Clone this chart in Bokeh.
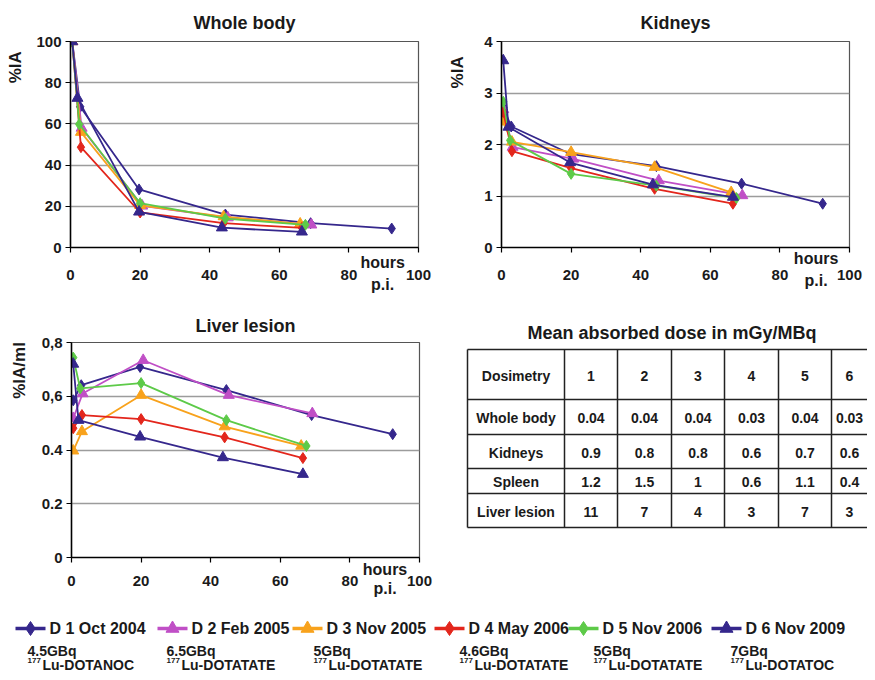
import math
from bokeh.plotting import figure
from bokeh.layouts import column, row
from bokeh.models import Range1d, FixedTicker, LinearAxis
from bokeh.core.properties import value
from bokeh.embed import file_html
from bokeh.resources import INLINE

FONT = "Liberation Sans"
INK = "#1a1a1a"

# ---------------- data ----------------
series_names = ["D 1 Oct 2004", "D 2 Feb 2005", "D 3 Nov 2005",
                "D 4 May 2006", "D 5 Nov 2006", "D 6 Nov 2009"]
activities = ["4.5GBq", "6.5GBq", "5GBq", "4.6GBq", "5GBq", "7GBq"]
isotope = "177"
compounds = ["Lu-DOTANOC", "Lu-DOTATATE", "Lu-DOTATATE",
             "Lu-DOTATATE", "Lu-DOTATATE", "Lu-DOTATOC"]

# acquisition times (hours p.i.)
t_d1 = [0.5, 2.8, 19.7, 44.5, 69.0, 92.3]
t_d2 = [0.5, 3.2, 20.6, 45.2, 69.2]
t_d3 = [0.5, 3.0, 20.0, 44.0, 66.0]
t_d4 = [0.5, 3.0, 20.0, 44.0, 66.5]
t_d5 = [0.5, 2.5, 20.0, 44.5, 67.5]
t_d6 = [0.5, 2.0, 19.7, 43.5, 66.5]

# whole body %IA
wb_d1 = [100, 68.3, 28.2, 16.0, 11.8, 9.2]
wb_d2 = [100, 58.0, 20.2, 14.5, 11.0]
wb_d3 = [100, 56.0, 20.5, 15.0, 11.5]
wb_d4 = [100, 48.7, 17.0, 11.8, 9.5]
wb_d5 = [100, 59.8, 21.5, 14.0, 11.0]
wb_d6 = [100, 72.5, 17.3, 9.6, 7.6]

# kidneys %IA
kd_d1 = [2.72, 2.35, 1.82, 1.58, 1.24, 0.85]
kd_d2 = [2.68, 1.95, 1.72, 1.30, 1.01]
kd_d3 = [2.44, 2.05, 1.85, 1.56, 1.07]
kd_d4 = [2.63, 1.87, 1.54, 1.14, 0.85]
kd_d5 = [2.83, 2.08, 1.43, 1.20, 0.96]
kd_d6 = [3.63, 2.34, 1.65, 1.22, 0.98]

# liver lesion %IA/ml
lv_d1 = [0.585, 0.641, 0.709, 0.623, 0.530, 0.459]
lv_d2 = [0.518, 0.610, 0.734, 0.604, 0.536]
lv_d3 = [0.397, 0.469, 0.604, 0.487, 0.415]
lv_d4 = [0.481, 0.530, 0.515, 0.447, 0.370]
lv_d5 = [0.744, 0.629, 0.649, 0.511, 0.415]
lv_d6 = [0.720, 0.511, 0.449, 0.372, 0.310]

x_ticks = [0, 20, 40, 60, 80, 100]
wb_ticks = [0, 20, 40, 60, 80, 100]
kd_ticks = [0, 1, 2, 3, 4]
lv_ticks = [0, 0.2, 0.4, 0.6, 0.8]
lv_tick_labels = ["0", "0.2", "0.4", "0,6", "0,8"]

# table: mean absorbed dose in mGy/MBq
table_title = "Mean absorbed dose in mGy/MBq"
table_header = ["Dosimetry", "1", "2", "3", "4", "5", "6"]
table_rows = ["Whole body", "Kidneys", "Spleen", "Liver lesion"]
dose_whole_body = ["0.04", "0.04", "0.04", "0.03", "0.04", "0.03"]
dose_kidneys = ["0.9", "0.8", "0.8", "0.6", "0.7", "0.6"]
dose_spleen = ["1.2", "1.5", "1", "0.6", "1.1", "0.4"]
dose_liver = ["11", "7", "4", "3", "7", "3"]

# ---------------- styles ----------------
times = [t_d1, t_d2, t_d3, t_d4, t_d5, t_d6]
colors = ["#35278C", "#C04FC6", "#F8A21C", "#E3261C", "#5DCA48", "#35278C"]
markers = ["diamond", "triangle", "triangle", "diamond", "diamond", "triangle"]


def text_axis(ticks, labels, standoff, size, orientation="horizontal"):
    ax = LinearAxis(ticker=FixedTicker(ticks=ticks),
                    major_label_overrides={t: l for t, l in zip(ticks, labels)},
                    major_label_standoff=standoff,
                    major_label_orientation=orientation,
                    major_label_text_font=FONT,
                    major_label_text_font_style="bold",
                    major_label_text_font_size=size,
                    major_label_text_color=INK,
                    axis_line_color=None, major_tick_line_color=None,
                    minor_tick_line_color=None, major_tick_in=0,
                    major_tick_out=0, minor_tick_in=0, minor_tick_out=0)
    return ax


def make_plot(title, series, ymax, yticks, ylabels, ylab, ylab_y, ylab_so,
              width, height, bl, br, bt, bb, title_so,
              hours_x, hours_so, nums_so, pi_so):
    p = figure(width=width, height=height, x_range=Range1d(0, 100),
               y_range=Range1d(0, ymax), output_backend="svg",
               toolbar_location=None, min_border_left=bl, min_border_right=br,
               min_border_top=bt, min_border_bottom=bb)
    p.title.text = title
    p.title.align = "center"
    p.title.text_font = FONT
    p.title.text_font_style = "bold"
    p.title.text_font_size = "18px"
    p.title.text_color = INK
    p.title.standoff = title_so

    xa = p.xaxis[0]
    ya = p.yaxis[0]
    for ax in (xa, ya):
        ax.axis_line_color = "black"
        ax.axis_line_width = 1.5
        ax.major_tick_line_color = "black"
        ax.major_tick_line_width = 1.2
        ax.major_tick_in = 0
        ax.major_tick_out = 5
        ax.minor_tick_line_color = None
        ax.major_label_text_font = FONT
        ax.major_label_text_font_style = "bold"
        ax.major_label_text_font_size = "15px"
        ax.major_label_text_color = INK
    xa.ticker = FixedTicker(ticks=x_ticks)
    # tick marks only on the main x axis; labels are on separate axes below
    xa.major_label_text_font_size = "1px"
    xa.major_label_text_color = None
    xa.major_label_standoff = 0
    ya.ticker = FixedTicker(ticks=yticks)
    ya.major_label_standoff = 4
    if ylabels is not None:
        ya.major_label_overrides = {t: l for t, l in zip(yticks, ylabels)}

    p.add_layout(text_axis([hours_x], ["hours"], hours_so, "16px"), "below")
    p.add_layout(text_axis(x_ticks, [str(t) for t in x_ticks], nums_so, "15px"),
                 "below")
    p.add_layout(text_axis([hours_x], ["p.i."], pi_so, "16px"), "below")
    p.add_layout(text_axis([ylab_y], [ylab], ylab_so, "17px", "vertical"), "left")

    p.xgrid.visible = False
    p.ygrid.grid_line_color = "#9c9c9c"
    p.ygrid.grid_line_width = 1.3
    p.outline_line_color = "#555555"
    p.outline_line_width = 1.2

    for t, v, c, m in zip(times, series, colors, markers):
        p.line(t, v, line_color=c, line_width=1.8)
        p.scatter(t, v, marker=m, size=11, fill_color=c, line_color=c)
    return p


p1 = make_plot("Whole body", [wb_d1, wb_d2, wb_d3, wb_d4, wb_d5, wb_d6],
               100, wb_ticks, None, "%IA", 87.5, 9,
               435, 296, 70, 17, 41, 49, 18, 89.7, 1, -4, -7)
p2 = make_plot("Kidneys", [kd_d1, kd_d2, kd_d3, kd_d4, kd_d5, kd_d6],
               4, kd_ticks, None, "%IA", 3.40, 14,
               432, 296, 66, 18, 41, 49, 18, 90.4, -3, 0, -11)
p3 = make_plot("Liver lesion", [lv_d1, lv_d2, lv_d3, lv_d4, lv_d5, lv_d6],
               0.8, lv_ticks, lv_tick_labels, "%IA/ml", 0.696, 9,
               435, 304, 71, 16, 46, 43, 14, 90.1, -2, -5, -9)

# ---------------- table ----------------
tx0, tx1 = 435, 867
frame_top, frame_bottom = 342, 557
col_edges = [467, 564, 617, 671, 724, 778, 831, 867]
row_edges = [349, 399, 434, 468, 493, 527]

p4 = figure(width=tx1 - tx0, height=304, x_range=Range1d(tx0, tx1),
            y_range=Range1d(frame_bottom, frame_top), output_backend="svg",
            toolbar_location=None, x_axis_type=None, y_axis_type=None,
            min_border_left=0, min_border_right=0, min_border_top=46,
            min_border_bottom=43)
p4.grid.visible = False
p4.outline_line_color = None
p4.title.text = table_title
p4.title.align = "left"
p4.title.offset = 92
p4.title.standoff = 0
p4.title.text_font = FONT
p4.title.text_font_style = "bold"
p4.title.text_font_size = "18px"
p4.title.text_color = INK

p4.segment(x0=[col_edges[0]] * len(row_edges), y0=row_edges,
           x1=[tx1] * len(row_edges), y1=row_edges,
           line_color="#222222", line_width=1.5)
vc = col_edges[:-1]
p4.segment(x0=vc, y0=[row_edges[0]] * len(vc), x1=vc,
           y1=[row_edges[-1]] * len(vc), line_color="#222222", line_width=1.5)

grid_text = [table_header] + [[name] + vals for name, vals in zip(
    table_rows, [dose_whole_body, dose_kidneys, dose_spleen, dose_liver])]
cx, cy, ct = [], [], []
for r, rowvals in enumerate(grid_text):
    for c, txt in enumerate(rowvals):
        cx.append((col_edges[c] + col_edges[c + 1]) / 2)
        cy.append((row_edges[r] + row_edges[r + 1]) / 2 + 1)
        ct.append(txt)
p4.text(x=cx, y=cy, text=ct, text_align="center", text_baseline="middle",
        text_font=value(FONT), text_font_style="bold", text_font_size="14px",
        text_color=INK)

# ---------------- legend ----------------
lx0, lx1 = 0, 867
ly0, ly1 = 600, 672
leg_x = [15, 157, 292, 434, 568, 711]
sub_x = [27, 166, 313, 459, 593, 730]
leg_y = 628
sub1_y = 650
sub2_y = 664

p5 = figure(width=lx1 - lx0, height=ly1 - ly0, x_range=Range1d(lx0, lx1),
            y_range=Range1d(ly1, ly0), output_backend="svg",
            toolbar_location=None, x_axis_type=None, y_axis_type=None,
            min_border=0)
p5.grid.visible = False
p5.outline_line_color = None
for i, (name, c, m) in enumerate(zip(series_names, colors, markers)):
    x = leg_x[i]
    p5.segment(x0=[x], y0=[leg_y], x1=[x + 30], y1=[leg_y], line_color=c,
               line_width=3.5)
    p5.scatter([x + 15], [leg_y], marker=m, size=14 if m == "diamond" else 13,
               fill_color=c, line_color=c)
p5.text(x=[x + 34 for x in leg_x], y=[leg_y] * 6, text=series_names,
        text_align="left", text_baseline="middle", text_font=value(FONT),
        text_font_style="bold", text_font_size="16px", text_color=INK)
p5.text(x=sub_x, y=[sub1_y] * 6, text=activities, text_align="left",
        text_baseline="middle", text_font=value(FONT), text_font_style="bold",
        text_font_size="14px", text_color=INK)
p5.text(x=sub_x, y=[sub2_y - 4] * 6, text=[isotope] * 6, text_align="left",
        text_baseline="middle", text_font=value(FONT), text_font_style="bold",
        text_font_size="8px", text_color=INK)
p5.text(x=[x + 15 for x in sub_x], y=[sub2_y] * 6, text=compounds,
        text_align="left", text_baseline="middle", text_font=value(FONT),
        text_font_style="bold", text_font_size="14px", text_color=INK)

layout = column(row(p1, p2), row(p3, p4), p5)
open("out.html", "w").write(file_html(layout, INLINE))
